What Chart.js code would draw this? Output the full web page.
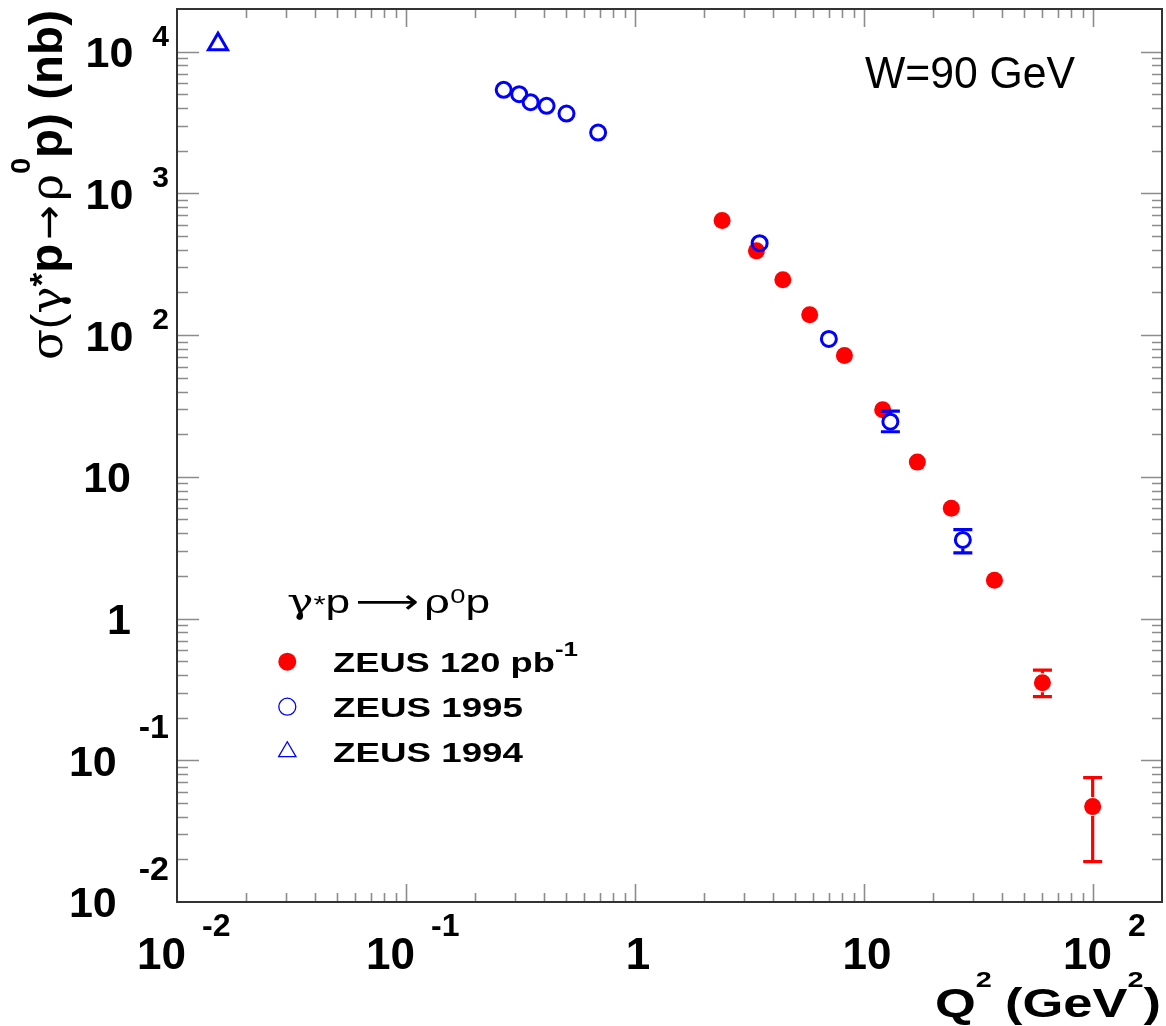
<!DOCTYPE html>
<html><head><meta charset="utf-8">
<script src="https://cdn.jsdelivr.net/npm/chart.js@4/dist/chart.umd.min.js"></script>
<style>html,body{margin:0;padding:0;background:#fff;}#wrap{width:1166px;height:1026px;}</style>
</head><body><div id="wrap"><canvas id="c" width="1166" height="1026"></canvas></div>
<script>
// ---------- data ----------
const q2Zeus120   = [2.40, 3.39, 4.42, 5.79, 8.21, 12.06, 17.09, 24.04, 37.1, 60.1, 99.6];
const sigZeus120  = [643, 393, 246, 139, 71.7, 29.7, 12.7, 6.00, 1.86, 0.353, 0.0471];
const hiZeus120   = [null, null, null, null, null, null, null, null, null, 0.432, 0.0754];
const loZeus120   = [null, null, null, null, null, null, null, null, null, 0.281, 0.0193];

const q2Zeus1995  = [0.267, 0.312, 0.350, 0.411, 0.502, 0.690, 3.50, 7.02, 13.03, 27.0];
const sigZeus1995 = [5375, 5012, 4401, 4145, 3657, 2687, 445, 94.0, 24.5, 3.59];
const hiZeus1995  = [null, null, null, null, null, null, null, null, 29.1, 4.24];
const loZeus1995  = [null, null, null, null, null, null, null, null, 20.8, 2.91];

const q2Zeus1994  = [0.0151];
const sigZeus1994 = [11260];

const seriesNames = ['ZEUS 120 pb', 'ZEUS 1995', 'ZEUS 1994'];
const xTickValues = [0.01, 0.1, 1, 10, 100];
const xTickBases  = ['10', '10', '1', '10', '10'];
const xTickExps   = ['-2', '-1', '', '', '2'];
const yTickValues = [0.01, 0.1, 1, 10, 100, 1000, 10000];
const yTickBases  = ['10', '10', '1', '10', '10', '10', '10'];
const yTickExps   = ['-2', '-1', '', '', '2', '3', '4'];
const xRange = [0.01, 200];
const yRange = [0.01, 20000];

const RED = '#ff0000', BLUE = '#0000ff';
const SANS = '"Liberation Sans", Arial, Helvetica, sans-serif';

function pts(xs, ys){ return xs.map((x,i)=>({x:x, y:ys[i]})); }

function drawRuns(ctx, runs, x, y, align, targetW){
  ctx.save();
  const ws = []; let w = 0;
  runs.forEach(r=>{ ctx.font = r.f; const m = ctx.measureText(r.t).width + (r.pre||0); ws.push(m); w += m; });
  const sx = targetW ? targetW / w : 1;
  const tot = w * sx;
  const x0 = align === 'right' ? x - tot : (align === 'center' ? x - tot/2 : x);
  ctx.translate(x0, y); ctx.scale(sx, 1);
  ctx.textBaseline = 'alphabetic'; ctx.textAlign = 'left';
  let cx = 0;
  runs.forEach((r,i)=>{ ctx.font = r.f; ctx.fillStyle = r.c || '#000'; ctx.fillText(r.t, cx + (r.pre||0), r.dy||0); cx += ws[i]; });
  ctx.restore();
  return tot;
}

// ---------- plugins ----------
const errorBars = {
  id: 'errorBars',
  afterDatasetsDraw(chart){
    const ctx = chart.ctx, xs = chart.scales.x, ys = chart.scales.y;
    chart.data.datasets.forEach(ds=>{
      if (!ds.errHi) return;
      ctx.save(); ctx.strokeStyle = ds.errColor; ctx.lineWidth = 3.2;
      ds.data.forEach((p,i)=>{
        const hi = ds.errHi[i], lo = ds.errLo[i];
        if (hi == null) return;
        const px = xs.getPixelForValue(p.x), py = ys.getPixelForValue(p.y);
        const pH = ys.getPixelForValue(hi), pL = ys.getPixelForValue(lo);
        const r = ds.pointRadius + 1;
        ctx.beginPath();
        if (pH < py - r){ ctx.moveTo(px, pH); ctx.lineTo(px, py - r); }
        if (pL > py + r){ ctx.moveTo(px, py + r); ctx.lineTo(px, pL); }
        ctx.moveTo(px - 9.5, pH); ctx.lineTo(px + 9.5, pH);
        ctx.moveTo(px - 9.5, pL); ctx.lineTo(px + 9.5, pL);
        ctx.stroke();
      });
      ctx.restore();
    });
  }
};

const frameAxes = {
  id: 'frameAxes',
  afterDraw(chart){
    const ctx = chart.ctx, a = chart.chartArea, x = chart.scales.x, y = chart.scales.y;
    ctx.save();
    ctx.strokeStyle = '#8c8c8c'; ctx.lineWidth = 1.6;
    ctx.beginPath();
    for (let d = -2; d <= 2; d++) for (let k = 1; k <= 9; k++){
      const v = k * Math.pow(10, d);
      if (v <= x.min * 1.001 || v >= x.max * 0.999) continue;
      const px = Math.round(x.getPixelForValue(v)) + 0.5;
      const L = k === 1 ? 18 : 9;
      ctx.moveTo(px, a.bottom); ctx.lineTo(px, a.bottom - L);
      ctx.moveTo(px, a.top); ctx.lineTo(px, a.top + L);
    }
    for (let d = -2; d <= 4; d++) for (let k = 1; k <= 9; k++){
      const v = k * Math.pow(10, d);
      if (v <= y.min * 1.001 || v >= y.max * 0.999) continue;
      const py = Math.round(y.getPixelForValue(v)) + 0.5;
      const L = k === 1 ? 22 : 11;
      ctx.moveTo(a.left, py); ctx.lineTo(a.left + L, py);
      ctx.moveTo(a.right, py); ctx.lineTo(a.right - (k === 1 ? 21 : 10), py);
    }
    ctx.stroke();
    ctx.strokeStyle = '#333'; ctx.lineWidth = 2;
    ctx.strokeRect(a.left, a.top, a.right - a.left, a.bottom - a.top);

    // x tick labels
    ctx.fillStyle = '#000';
    xTickValues.forEach((v,i)=>{
      const px = x.getPixelForValue(v);
      if (xTickExps[i]){
        const neg = xTickExps[i][0] === '-';
        ctx.font = 'bold 44px ' + SANS;
        const right = px + (neg ? 9 : 19);
        ctx.textAlign = 'right'; ctx.fillText(xTickBases[i], right, 969);
        ctx.font = 'bold 32px ' + SANS; ctx.textAlign = 'left';
        ctx.fillText(xTickExps[i], right + 16, 936);
      } else {
        ctx.font = 'bold 44px ' + SANS; ctx.textAlign = 'center';
        ctx.fillText(xTickBases[i], px + 3, 969);
      }
    });
    // y tick labels
    yTickValues.forEach((v,i)=>{
      const py = y.getPixelForValue(v);
      if (yTickExps[i]){
        const neg = yTickExps[i][0] === '-';
        ctx.font = (neg ? 'bold 34px ' : 'bold 30px ') + SANS; ctx.textAlign = 'right';
        const ew = ctx.measureText(yTickExps[i]).width;
        ctx.fillText(yTickExps[i], 169, neg ? py - 22 : py - 6);
        ctx.font = 'bold 43px ' + SANS;
        ctx.fillText(yTickBases[i], 169 - ew - (neg ? 22 : 19), py + 15.4);
      } else {
        ctx.font = 'bold 43px ' + SANS; ctx.textAlign = 'right';
        ctx.fillText(yTickBases[i], 131, py + 15.4);
      }
    });
    ctx.textAlign = 'left';

    // x title
    drawRuns(ctx, [
      {t:'Q', f:'bold 40px ' + SANS},
      {t:'2', f:'bold 22px ' + SANS, dy:-30},
      {t:'(GeV', f:'bold 40px ' + SANS, pre:10},
      {t:'2', f:'bold 22px ' + SANS, dy:-30},
      {t:')', f:'bold 40px ' + SANS}
    ], 1161, 1017, 'right', 226);

    // y title (rotated)
    ctx.save();
    ctx.translate(62, 360); ctx.rotate(-Math.PI/2);
    drawRuns(ctx, [
      {t:'\u03c3', f:'normal 44px "DejaVu Serif", serif'},
      {t:'(', f:'normal 44px ' + SANS},
      {t:'\u03b3', f:'normal 44px "DejaVu Serif", serif'},
      {t:'*', f:'bold 34px ' + SANS, dy:-9},
      {t:'p', f:'bold 46px ' + SANS},
      {t:'\u2192', f:'normal 40px "DejaVu Sans", sans-serif', pre:4},
      {t:'\u03c1', f:'normal 44px "DejaVu Serif", serif', pre:4},
      {t:'0', f:'bold 28px ' + SANS, dy:-32},
      {t:'p) (nb)', f:'bold 46px ' + SANS}
    ], 0, 0, 'left', 350);
    ctx.restore();

    // W = 90 GeV
    drawRuns(ctx, [{t:'W=90 GeV', f:'normal 44px ' + SANS}], 865, 88, 'left', 210);

    // legend header
    drawRuns(ctx, [
      {t:'\u03b3', f:'normal 34px "DejaVu Serif", serif'},
      {t:'*', f:'normal 24px ' + SANS},
      {t:'p', f:'normal 34px ' + SANS},
      {t:'\u27f6', f:'normal 34px "DejaVu Sans", sans-serif', pre:4},
      {t:'\u03c1', f:'normal 34px "DejaVu Serif", serif', pre:4},
      {t:'0', f:'normal 21px ' + SANS, dy:-10},
      {t:'p', f:'normal 34px ' + SANS}
    ], 287, 613, 'left', 203);

    // legend entries: markers from dataset styling, then text
    const ds = chart.data.datasets;
    const rows = [
      {y:661.7, d:ds[1], base:672, runs:[{t:seriesNames[0], f:'bold 28px ' + SANS},{t:'-1', f:'bold 20px ' + SANS, dy:-16}], w:245},
      {y:706.7, d:ds[0], base:717, runs:[{t:seriesNames[1], f:'bold 28px ' + SANS}], w:190},
      {y:751.7, d:ds[2], base:762, runs:[{t:seriesNames[2], f:'bold 28px ' + SANS}], w:190}
    ];
    rows.forEach(r=>{
      const d = r.d;
      const filled = d.backgroundColor !== 'rgba(0,0,0,0)';
      ctx.save();
      ctx.fillStyle = d.backgroundColor; ctx.strokeStyle = d.borderColor;
      ctx.lineWidth = filled ? 0 : 1.3;
      Chart.helpers.drawPoint(ctx, {pointStyle: d.pointStyle, radius: d.legendRadius, rotation: 0, borderWidth: ctx.lineWidth}, 287.3, r.y);
      ctx.restore();
      drawRuns(ctx, r.runs, 333, r.base, 'left', r.w);
    });
    ctx.restore();
  }
};

new Chart(document.getElementById('c'), {
  type: 'scatter',
  data: {
    datasets: [
      { label: seriesNames[1], data: pts(q2Zeus1995, sigZeus1995), order: 0,
        pointStyle: 'circle', pointRadius: 7.5, backgroundColor: 'rgba(0,0,0,0)', borderColor: BLUE, borderWidth: 3,
        errHi: hiZeus1995, errLo: loZeus1995, errColor: BLUE, legendRadius: 8.5 },
      { label: seriesNames[0], data: pts(q2Zeus120, sigZeus120), order: 1,
        pointStyle: 'circle', pointRadius: 8.5, backgroundColor: RED, borderColor: RED, borderWidth: 0,
        errHi: hiZeus120, errLo: loZeus120, errColor: RED, legendRadius: 8 },
      { label: seriesNames[2], data: pts(q2Zeus1994, sigZeus1994), order: 0,
        pointStyle: 'triangle', pointRadius: 11, backgroundColor: 'rgba(0,0,0,0)', borderColor: BLUE, borderWidth: 3,
        legendRadius: 10 }
    ]
  },
  options: {
    responsive: false, animation: false, devicePixelRatio: 1,
    layout: { autoPadding: false, padding: { top: 9, right: 4, left: 0, bottom: 0 } },
    plugins: { legend: { display: false }, tooltip: { enabled: false } },
    elements: { point: { hoverRadius: 8 } },
    scales: {
      x: { type: 'logarithmic', min: xRange[0], max: xRange[1],
           ticks: { display: false }, grid: { display: false }, border: { display: false },
           afterFit(s){ s.height = 124; } },
      y: { type: 'logarithmic', min: yRange[0], max: yRange[1],
           ticks: { display: false }, grid: { display: false }, border: { display: false },
           afterFit(s){ s.width = 177; } }
    }
  },
  plugins: [errorBars, frameAxes]
});
</script>
</body></html>
